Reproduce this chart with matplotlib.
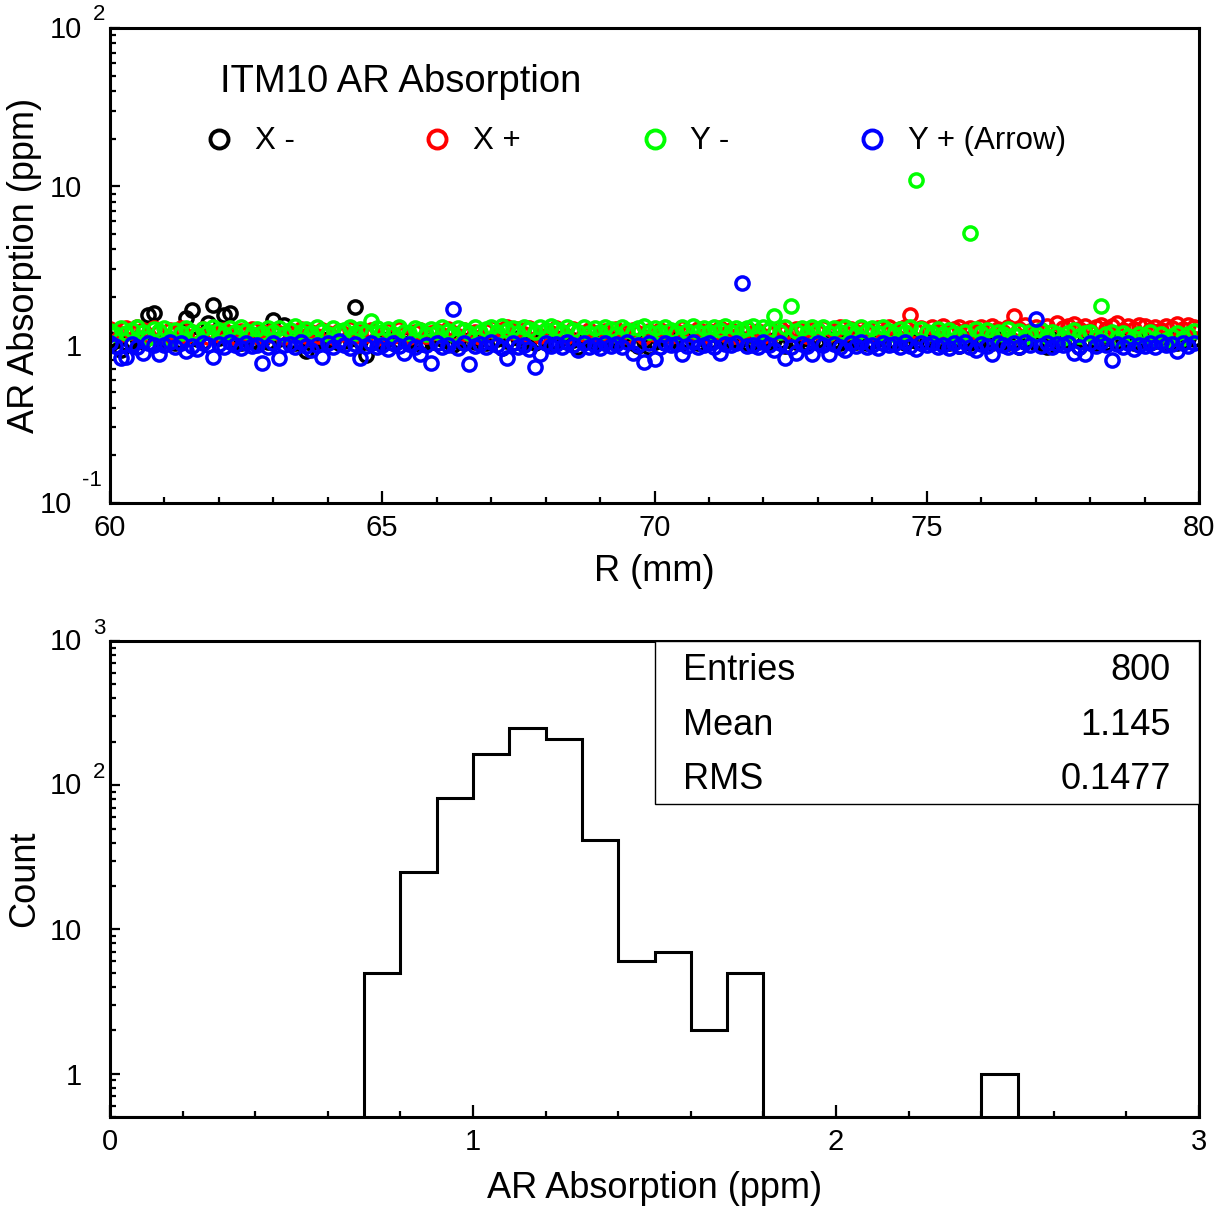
import numpy as np
import matplotlib
matplotlib.use("Agg")
import matplotlib.pyplot as plt
from matplotlib.ticker import FixedLocator, FixedFormatter, MultipleLocator, NullFormatter
from matplotlib.patches import Rectangle

plt.rcParams['font.family'] = ['Liberation Sans', 'DejaVu Sans']

# ---- scatter data: AR absorption (ppm) vs radius, one point every 0.1 mm from 60 mm ----
R_START = 60.0
R_STEP = 0.1

x_minus = [
    1.08, 1.05, 0.93, 1.03, 1.06, 1.10, 1.04, 1.55, 1.58, 1.07,
    1.05, 1.09, 1.03, 1.06, 1.48, 1.66, 1.08, 1.04, 1.38, 1.79,
    1.10, 1.55, 1.58, 1.06, 1.03, 1.08, 1.05, 1.02, 1.07, 1.04,
    1.44, 1.08, 1.34, 1.05, 1.02, 1.06, 0.91, 1.03, 1.07, 1.04,
    1.09, 1.05, 1.02, 1.06, 1.08, 1.72, 1.05, 0.86, 1.03, 1.07,
    1.04, 1.08, 1.02, 1.05, 1.09, 1.03, 1.06, 1.01, 1.04, 1.07,
    1.03, 1.08, 1.05, 0.99, 1.06, 1.02, 1.07, 1.04, 1.09, 1.03,
    1.05, 1.08, 0.95, 1.06, 1.03, 1.10, 1.04, 1.07, 1.02, 1.05,
    1.08, 1.03, 1.06, 1.11, 1.04, 1.07, 0.97, 1.05, 1.09, 1.03,
    1.06, 1.02, 1.08, 1.04, 1.07, 1.05, 1.03, 0.98, 1.06, 0.96,
    1.04, 1.08, 1.02, 1.06, 1.09, 1.03, 1.07, 1.05, 1.02, 1.08,
    1.04, 1.06, 1.10, 1.03, 1.07, 1.05, 1.08, 1.02, 1.06, 1.04,
    1.09, 1.03, 1.07, 1.05, 0.98, 1.06, 1.04, 1.08, 1.02, 1.05,
    1.07, 1.03, 1.09, 1.05, 1.02, 1.06, 1.08, 1.04, 1.07, 1.03,
    1.05, 1.09, 1.02, 1.06, 1.04, 1.08, 1.03, 1.07, 1.05, 1.02,
    1.06, 1.09, 1.04, 1.07, 1.03, 1.05, 0.98, 1.08, 1.02, 1.06,
    1.04, 1.07, 1.03, 1.09, 1.05, 1.02, 1.06, 0.97, 1.04, 1.07,
    1.03, 1.05, 0.97, 1.08, 1.02, 1.06, 1.04, 1.09, 0.96, 1.05,
    1.07, 1.03, 1.06, 1.02, 1.08, 1.04, 1.07, 1.05, 1.03, 1.06,
    1.09, 1.02, 1.05, 1.08, 1.04, 1.07, 1.03, 1.06, 1.10, 1.08,
]

x_plus = [
    1.26, 1.22, 1.16, 1.28, 1.20, 1.30, 1.23, 1.15, 1.27, 1.21,
    1.14, 1.24, 1.18, 1.27, 1.13, 1.21, 1.16, 1.25, 1.12, 1.20,
    1.15, 1.24, 1.18, 1.12, 1.22, 1.16, 1.25, 1.13, 1.20, 1.15,
    1.23, 1.18, 1.12, 1.22, 1.16, 1.26, 1.14, 1.20, 1.13, 1.24,
    1.18, 1.12, 1.22, 1.16, 1.25, 1.13, 1.20, 1.15, 1.24, 1.11,
    1.19, 1.22, 1.14, 1.25, 1.17, 1.12, 1.20, 1.24, 1.13, 1.19,
    1.22, 1.15, 1.25, 1.18, 1.13, 1.23, 1.16, 1.21, 1.12, 1.22,
    1.27, 1.18, 1.24, 1.29, 1.20, 1.26, 1.16, 1.28, 1.21, 1.14,
    1.24, 1.18, 1.27, 1.20, 1.14, 1.25, 1.21, 1.16, 1.24, 1.18,
    1.13, 1.22, 1.16, 1.25, 1.20, 1.14, 1.23, 1.18, 1.12, 1.22,
    1.16, 1.24, 1.18, 1.13, 1.22, 1.27, 1.16, 1.20, 1.26, 1.14,
    1.22, 1.18, 1.27, 1.16, 1.24, 1.13, 1.20, 1.26, 1.18, 1.22,
    1.14, 1.24, 1.18, 1.28, 1.20, 1.16, 1.26, 1.22, 1.14, 1.24,
    1.20, 1.27, 1.16, 1.22, 1.29, 1.18, 1.26, 1.20, 1.28, 1.23,
    1.18, 1.27, 1.21, 1.29, 1.19, 1.25, 1.30, 1.55, 1.22, 1.27,
    1.20, 1.29, 1.23, 1.31, 1.19, 1.26, 1.30, 1.22, 1.28, 1.20,
    1.29, 1.23, 1.32, 1.25, 1.20, 1.30, 1.52, 1.26, 1.33, 1.22,
    1.30, 1.24, 1.32, 1.21, 1.38, 1.27, 1.31, 1.35, 1.25, 1.32,
    1.22, 1.29, 1.33, 1.25, 1.31, 1.38, 1.23, 1.32, 1.26, 1.34,
    1.32, 1.24, 1.30, 1.23, 1.32, 1.27, 1.35, 1.25, 1.33, 1.29,
]

y_minus = [
    1.22, 1.16, 1.27, 1.19, 1.24, 1.29, 1.20, 1.10, 1.25, 1.22,
    1.28, 1.09, 1.24, 1.18, 1.27, 1.21, 1.15, 1.26, 1.20, 1.29,
    1.23, 1.17, 1.27, 1.20, 1.30, 1.22, 1.16, 1.26, 1.19, 1.28,
    1.21, 1.27, 1.17, 1.24, 1.31, 1.20, 1.26, 1.18, 1.29, 1.22,
    1.17, 1.27, 1.20, 1.24, 1.30, 1.19, 1.26, 1.21, 1.42, 1.27,
    1.20, 1.26, 1.17, 1.29, 1.21, 1.18, 1.27, 1.23, 1.16, 1.26,
    1.20, 1.29, 1.22, 1.17, 1.27, 1.23, 1.19, 1.30, 1.21, 1.26,
    1.29, 1.20, 1.31, 1.23, 1.27, 1.19, 1.30, 1.25, 1.21, 1.29,
    1.23, 1.31, 1.26, 1.20, 1.30, 1.24, 1.21, 1.29, 1.18, 1.27,
    1.21, 1.30, 1.25, 1.17, 1.29, 1.23, 1.20, 1.27, 1.32, 1.21,
    1.27, 1.20, 1.30, 1.24, 1.18, 1.29, 1.22, 1.31, 1.21, 1.27,
    1.20, 1.30, 1.24, 1.32, 1.21, 1.28, 1.23, 1.27, 1.31, 1.19,
    1.29, 1.24, 1.52, 1.21, 1.30, 1.75, 1.22, 1.27, 1.18, 1.29,
    1.23, 1.30, 1.19, 1.27, 1.21, 1.29, 1.24, 1.17, 1.30, 1.22,
    1.27, 1.19, 1.29, 1.22, 1.16, 1.25, 1.20, 1.30, 11.0, 1.26,
    1.21, 1.18, 1.25, 1.16, 1.23, 1.19, 1.14, 1.21, 5.1, 1.25,
    1.18, 1.23, 1.14, 1.20, 1.16, 1.25, 1.15, 1.22, 1.12, 1.20,
    1.17, 1.24, 1.14, 1.21, 1.16, 1.11, 1.19, 1.23, 1.13, 1.18,
    1.21, 1.12, 1.75, 1.16, 1.20, 1.11, 1.18, 1.14, 1.10, 1.17,
    1.13, 1.20, 1.09, 1.16, 1.07, 1.13, 1.19, 1.11, 1.17, 1.22,
]

y_plus = [
    1.02, 0.98, 0.82, 0.84, 1.01, 0.97, 0.89, 1.03, 0.99, 0.87,
    1.00, 1.04, 0.96, 1.02, 0.91, 0.98, 0.94, 1.03, 0.99, 0.84,
    1.01, 0.97, 1.04, 0.99, 0.95, 1.02, 0.98, 1.00, 0.77, 0.96,
    1.03, 0.82, 0.99, 1.01, 0.96, 1.04, 0.98, 0.93, 1.00, 0.84,
    1.02, 0.97, 1.05, 0.99, 0.95, 1.01, 0.82, 0.98, 1.03, 0.96,
    1.00, 0.94, 1.02, 0.98, 0.89, 1.01, 0.96, 0.87, 0.99, 0.77,
    1.03, 0.97, 1.00, 1.69, 0.95, 1.02, 0.75, 0.98, 1.01, 0.96,
    1.04, 0.99, 0.95, 0.82, 1.02, 0.97, 1.00, 0.94, 0.72, 0.87,
    1.03, 0.98, 1.01, 0.96, 1.04, 0.99, 0.93, 1.02, 0.97, 1.00,
    0.95, 1.03, 0.98, 1.01, 0.96, 1.04, 0.89, 0.99, 0.78, 1.02,
    0.81, 0.97, 1.03, 0.99, 1.01, 0.87, 0.98, 1.04, 0.96, 1.00,
    1.02, 0.97, 0.88, 1.01, 0.99, 1.03, 2.45, 0.98, 1.00, 0.96,
    1.04, 0.99, 0.93, 1.02, 0.83, 0.97, 0.88, 1.01, 0.98, 0.87,
    1.03, 0.99, 0.87, 1.01, 0.96, 0.92, 1.02, 0.98, 1.04, 0.97,
    1.00, 0.95, 1.03, 0.99, 1.01, 0.96, 1.04, 0.98, 0.94, 1.02,
    0.99, 1.03, 0.97, 1.00, 0.95, 1.02, 0.98, 1.04, 0.96, 0.92,
    1.01, 0.98, 0.87, 1.03, 0.99, 0.96, 1.02, 0.97, 1.04, 1.00,
    1.46, 0.98, 1.02, 0.96, 1.01, 0.99, 1.03, 0.89, 0.97, 0.87,
    1.02, 0.98, 1.04, 0.99, 0.80, 1.01, 0.97, 1.03, 0.94, 1.00,
    0.98, 1.02, 0.96, 1.04, 0.99, 1.01, 0.91, 1.03, 0.98, 1.02,
]

series_labels = ["X -", "X +", "Y -", "Y + (Arrow)"]
series_colors = ["#000000", "#ff0000", "#00ff00", "#0000ff"]

# ---- histogram of all points: 0.1 ppm bins from 0 to 3 ----
BIN_LO = 0.0
BIN_W = 0.1
hist_counts = [0, 0, 0, 0, 0, 0, 0, 5, 25, 82,
               165, 250, 210, 42, 6, 7, 2, 5, 0, 0,
               0, 0, 0, 0, 1, 0, 0, 0, 0, 0]
stat_names = ["Entries", "Mean", "RMS"]
stat_values = ["800", "1.145", "0.1477"]

TICK_FS = 21
LABEL_FS = 26


def power_label(ax, value, exp, base_dx, exp_dx, exp_dy, base_dy=0):
    ax.annotate("10", xy=(0, value), xycoords=("axes fraction", "data"),
                xytext=(base_dx, base_dy), textcoords="offset points",
                ha="right", va="center", fontsize=TICK_FS, annotation_clip=False)
    ax.annotate(exp, xy=(0, value), xycoords=("axes fraction", "data"),
                xytext=(exp_dx, exp_dy), textcoords="offset points",
                ha="right", va="center", fontsize=16, annotation_clip=False)


def style_axes(ax):
    for s in ax.spines.values():
        s.set_linewidth(2.2)
    ax.tick_params(which="both", direction="in", top=False, right=False,
                   width=1.6, labelsize=TICK_FS)
    ax.tick_params(axis="x", which="major", length=9, pad=8)
    ax.tick_params(axis="x", which="minor", length=4.5)
    ax.tick_params(axis="y", which="major", length=7.5, pad=20)
    ax.tick_params(axis="y", which="minor", length=4.5)


fig = plt.figure(figsize=(12.29, 12.11), dpi=100)
ax1 = fig.add_axes([0.0895, 0.5846, 0.8861, 0.3923])
ax2 = fig.add_axes([0.0895, 0.0776, 0.8861, 0.3931])

# ---- top: scatter ----
all_series = [x_minus, x_plus, y_minus, y_plus]
for vals, col in zip(all_series, series_colors):
    r = R_START + R_STEP * np.arange(len(vals))
    ax1.plot(r, vals, linestyle="none", marker="o", ms=9.5, mfc="none",
             mec=col, mew=2.5)

ax1.set_yscale("log")
ax1.set_xlim(60, 80)
ax1.set_ylim(0.1, 100)
ax1.xaxis.set_major_locator(MultipleLocator(5))
ax1.xaxis.set_minor_locator(MultipleLocator(1))
ax1.yaxis.set_major_locator(FixedLocator([0.1, 1, 10, 100]))
ax1.yaxis.set_major_formatter(FixedFormatter(["", "1", "10", ""]))
ax1.yaxis.set_minor_formatter(NullFormatter())
style_axes(ax1)
power_label(ax1, 100, "2", -20, -3.5, 10, -1.5)
power_label(ax1, 0.1, "-1", -27, -5.5, 16.5, -1.5)
ax1.set_xlabel("R (mm)", fontsize=LABEL_FS)
ax1.set_ylabel("AR Absorption (ppm)", fontsize=LABEL_FS)
ax1.xaxis.set_label_coords(0.5, -0.108)
ax1.yaxis.set_label_coords(-0.062, 0.5)

ax1.text(0.101, 0.887, "ITM10 AR Absorption", transform=ax1.transAxes,
         fontsize=27.5, ha="left", va="center")
for k, (lab, col) in enumerate(zip(series_labels, series_colors)):
    ax1.plot([0.100 + 0.2 * k], [0.766], transform=ax1.transAxes,
             marker="o", ms=13, mfc="none", mec=col, mew=2.8, clip_on=False)
    ax1.text(0.133 + 0.2 * k, 0.762, lab, transform=ax1.transAxes,
             fontsize=22.5, ha="left", va="center")

# ---- bottom: histogram ----
edges = BIN_LO + BIN_W * np.arange(len(hist_counts) + 1)
ymin = 0.5
ax2.set_yscale("log")
ax2.stairs(np.maximum(hist_counts, ymin), edges, baseline=ymin,
           color="black", linewidth=2.2)
ax2.set_xlim(0, 3)
ax2.set_ylim(ymin, 1000)
ax2.xaxis.set_major_locator(MultipleLocator(1))
ax2.xaxis.set_minor_locator(MultipleLocator(0.2))
ax2.yaxis.set_major_locator(FixedLocator([1, 10, 100, 1000]))
ax2.yaxis.set_major_formatter(FixedFormatter(["1", "10", "", ""]))
ax2.yaxis.set_minor_formatter(NullFormatter())
style_axes(ax2)
power_label(ax2, 1000, "3", -20, -3, 9, -0.5)
power_label(ax2, 100, "2", -20, -3.5, 9, -0.5)
ax2.set_xlabel("AR Absorption (ppm)", fontsize=LABEL_FS)
ax2.set_ylabel("Count", fontsize=LABEL_FS)
ax2.xaxis.set_label_coords(0.5, -0.114)
ax2.yaxis.set_label_coords(-0.062, 0.5)

ax2.add_patch(Rectangle((0.5, 0.6576), 0.5, 0.3424, transform=ax2.transAxes,
                        fill=True, facecolor="white", edgecolor="black",
                        linewidth=1.0, zorder=3))
for k, (name, val) in enumerate(zip(stat_names, stat_values)):
    yy = 0.937 - 0.1145 * k
    ax2.text(0.526, yy, name, transform=ax2.transAxes, fontsize=LABEL_FS,
             ha="left", va="center", zorder=4)
    ax2.text(0.974, yy, val, transform=ax2.transAxes, fontsize=LABEL_FS,
             ha="right", va="center", zorder=4)

fig.savefig("out.png", dpi=100)
